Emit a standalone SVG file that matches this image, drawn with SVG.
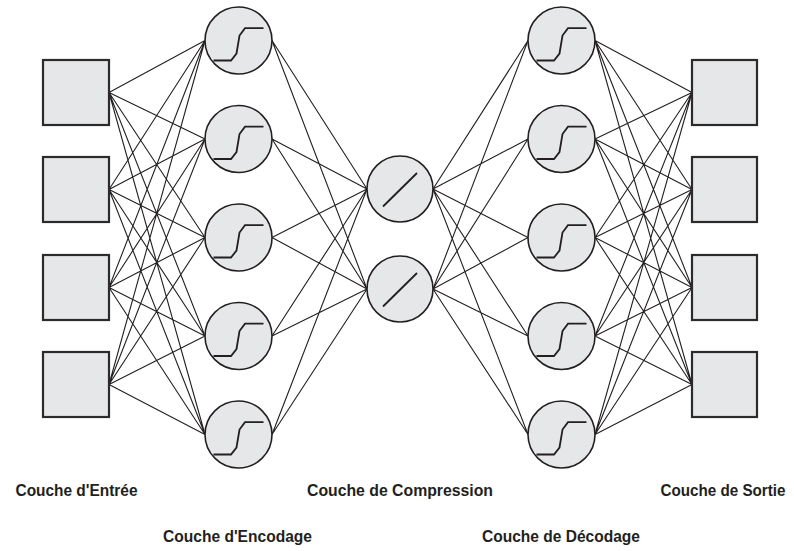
<svg xmlns="http://www.w3.org/2000/svg" width="794" height="551" viewBox="0 0 794 551">
<style>
.sq{fill:#e6e7e8;stroke:#2b2b2b;stroke-width:2.2}
.cn{fill:#e6e7e8;stroke:#231f20;stroke-width:1.6}
.ic{fill:none;stroke:#231f20;stroke-width:1.8}
.ln{stroke:#231f20;stroke-width:1.1;fill:none}
.lb{font-family:"Liberation Sans",Arial,sans-serif;font-weight:bold;font-size:16px;fill:#231f20;text-anchor:middle}
</style>
<defs>
<path id="sig" d="M-25,20 L-7.5,20 L-2,13 L1,-5 L6.5,-12.3 L25,-12.3" class="ic"/>
<path id="lin" d="M-17,17.5 L17,-16" class="ic"/>
</defs>
<g id="connectors">
<path class="ln" d="M109,92.5L205,40.5M109,92.5L205,139M109,92.5L205,237.5M109,92.5L205,336M109,92.5L205,434.5
M109,189.5L205,40.5M109,189.5L205,139M109,189.5L205,237.5M109,189.5L205,336M109,189.5L205,434.5
M109,287.5L205,40.5M109,287.5L205,139M109,287.5L205,237.5M109,287.5L205,336M109,287.5L205,434.5
M109,384.5L205,40.5M109,384.5L205,139M109,384.5L205,237.5M109,384.5L205,336M109,384.5L205,434.5"/>
<path class="ln" d="M272,40.5L367,189M272,139L367,189M272,237.5L367,189M272,336L367,189M272,434.5L367,189
M272,40.5L367,289M272,139L367,289M272,237.5L367,289M272,336L367,289M272,434.5L367,289"/>
<path class="ln" d="M433,189L528,40.5M433,189L528,139M433,189L528,237.5M433,189L528,336M433,189L528,434.5
M433,289L528,40.5M433,289L528,139M433,289L528,237.5M433,289L528,336M433,289L528,434.5"/>
<path class="ln" d="M595,40.5L692,92.5M595,139L692,92.5M595,237.5L692,92.5M595,336L692,92.5M595,434.5L692,92.5
M595,40.5L692,189.5M595,139L692,189.5M595,237.5L692,189.5M595,336L692,189.5M595,434.5L692,189.5
M595,40.5L692,287.5M595,139L692,287.5M595,237.5L692,287.5M595,336L692,287.5M595,434.5L692,287.5
M595,40.5L692,384.5M595,139L692,384.5M595,237.5L692,384.5M595,336L692,384.5M595,434.5L692,384.5"/>
</g>
<g id="in1"><rect class="sq" x="43" y="60" width="66" height="65"/></g>
<g id="in2"><rect class="sq" x="43" y="157" width="66" height="65"/></g>
<g id="in3"><rect class="sq" x="43" y="255" width="66" height="65"/></g>
<g id="in4"><rect class="sq" x="43" y="352" width="66" height="65"/></g>
<g id="enc1"><circle class="cn" cx="238.5" cy="40.5" r="33.5"/><use href="#sig" x="238.5" y="40.5"/></g>
<g id="enc2"><circle class="cn" cx="238.5" cy="139" r="33.5"/><use href="#sig" x="238.5" y="139"/></g>
<g id="enc3"><circle class="cn" cx="238.5" cy="237.5" r="33.5"/><use href="#sig" x="238.5" y="237.5"/></g>
<g id="enc4"><circle class="cn" cx="238.5" cy="336" r="33.5"/><use href="#sig" x="238.5" y="336"/></g>
<g id="enc5"><circle class="cn" cx="238.5" cy="434.5" r="33.5"/><use href="#sig" x="238.5" y="434.5"/></g>
<g id="cmp1"><circle class="cn" cx="400" cy="189" r="33"/><use href="#lin" x="400" y="189"/></g>
<g id="cmp2"><circle class="cn" cx="400" cy="289" r="33"/><use href="#lin" x="400" y="289"/></g>
<g id="dec1"><circle class="cn" cx="561.5" cy="40.5" r="33.5"/><use href="#sig" x="561.5" y="40.5"/></g>
<g id="dec2"><circle class="cn" cx="561.5" cy="139" r="33.5"/><use href="#sig" x="561.5" y="139"/></g>
<g id="dec3"><circle class="cn" cx="561.5" cy="237.5" r="33.5"/><use href="#sig" x="561.5" y="237.5"/></g>
<g id="dec4"><circle class="cn" cx="561.5" cy="336" r="33.5"/><use href="#sig" x="561.5" y="336"/></g>
<g id="dec5"><circle class="cn" cx="561.5" cy="434.5" r="33.5"/><use href="#sig" x="561.5" y="434.5"/></g>
<g id="out1"><rect class="sq" x="692" y="60" width="65" height="65"/></g>
<g id="out2"><rect class="sq" x="692" y="157" width="65" height="65"/></g>
<g id="out3"><rect class="sq" x="692" y="255" width="65" height="65"/></g>
<g id="out4"><rect class="sq" x="692" y="352" width="65" height="65"/></g>
<g id="labels">
<text class="lb" x="76.5" y="496" textLength="122" lengthAdjust="spacingAndGlyphs">Couche d'Entrée</text>
<text class="lb" x="400" y="496" textLength="186" lengthAdjust="spacingAndGlyphs">Couche de Compression</text>
<text class="lb" x="723" y="496" textLength="125" lengthAdjust="spacingAndGlyphs">Couche de Sortie</text>
<text class="lb" x="237.5" y="542" textLength="149" lengthAdjust="spacingAndGlyphs">Couche d'Encodage</text>
<text class="lb" x="561" y="542" textLength="158" lengthAdjust="spacingAndGlyphs">Couche de Décodage</text>
</g>
</svg>
